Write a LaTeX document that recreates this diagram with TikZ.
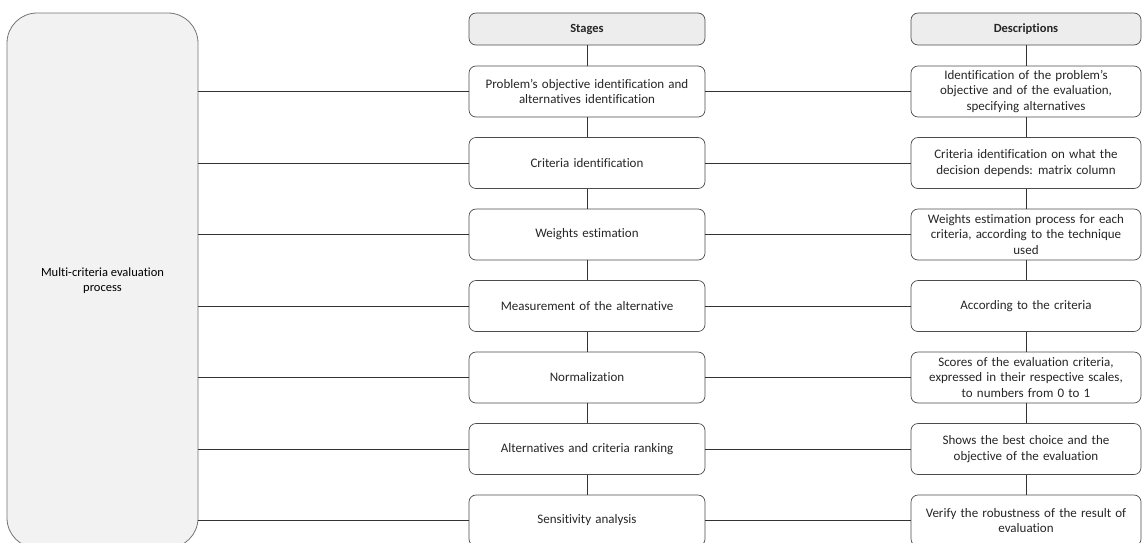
\documentclass[tikz,border=0pt]{standalone}
\usepackage{fontspec}
\setmainfont[Ligatures=CommonOff]{Carlito}
\newcommand{\largesp}{\spaceskip=4.2pt plus 1pt minus 0.5pt\relax}
\tikzset{
  etape/.style={draw=black!70, line width=0.7pt, rounded corners=7pt, fill=white,
    minimum width=236pt, minimum height=51pt, align=center, inner sep=1pt,
    text=black!85, font=\fontsize{13}{15.6}\selectfont\largesp},
  descr/.style={etape, minimum width=230pt},
  entete/.style={etape, fill=black!7, minimum height=32pt,
    font=\fontsize{12.5}{14}\selectfont\bfseries},
  lien/.style={draw=black!80, line width=0.8pt}
}
\begin{document}
\begin{tikzpicture}[x=1pt, y=-1pt]
        \useasboundingbox (0,0) rectangle (1146,542);
        \clip (0,0) rectangle (1146,542);

        % Processus (gauche)
        \node [draw=black!55, line width=0.8pt, fill=black!5, rounded corners=30pt,
               minimum width=191pt, minimum height=535pt, align=center,
               font=\fontsize{12.5}{15}\selectfont, text=black]
              (proc) at (102.5, 280.5) {Multi-criteria evaluation\\process};

        % En-tetes
        \node [entete] (hstage) at (587, 29) {Stages};
        \node [entete, minimum width=230pt] (hdesc) at (1026, 29) {Descriptions};

        % Etapes (centre)
        \node [etape] (s1) at (587, 91.5) {Problem’s objective identification and\\alternatives identification};
        \node [etape] (s2) at (587, 163) {Criteria identification};
        \node [etape] (s3) at (587, 234.5) {Weights estimation};
        \node [etape] (s4) at (587, 306) {Measurement of the alternative};
        \node [etape] (s5) at (587, 377.5) {Normalization};
        \node [etape] (s6) at (587, 449) {Alternatives and criteria ranking};
        \node [etape] (s7) at (587, 520.5) {Sensitivity analysis};

        % Descriptions (droite)
        \node [descr] (d1) at (1026, 91.5) {Identification of the problem’s\\objective and of the evaluation,\\specifying alternatives};
        \node [descr] (d2) at (1026, 163) {Criteria identification on what the\\decision depends: matrix column};
        \node [descr] (d3) at (1026, 234.5) {Weights estimation process for each\\criteria, according to the technique\\used};
        \node [descr] (d4) at (1026, 306) {According to the criteria};
        \node [descr] (d5) at (1026, 377.5) {Scores of the evaluation criteria,\\expressed in their respective scales,\\to numbers from 0 to 1};
        \node [descr] (d6) at (1026, 449) {Shows the best choice and the\\objective of the evaluation};
        \node [descr] (d7) at (1026, 520.5) {Verify the robustness of the result of\\evaluation};

        % Liens
        \draw [lien] (hstage) -- (s1) -- (s2) -- (s3) -- (s4) -- (s5) -- (s6) -- (s7);
        \draw [lien] (hdesc) -- (d1) -- (d2) -- (d3) -- (d4) -- (d5) -- (d6) -- (d7);
        \foreach \i in {1,...,7} {
            \draw [lien] (proc.east |- s\i) -- (s\i.west);
            \draw [lien] (s\i) -- (d\i);
        }
\end{tikzpicture}
\end{document}
